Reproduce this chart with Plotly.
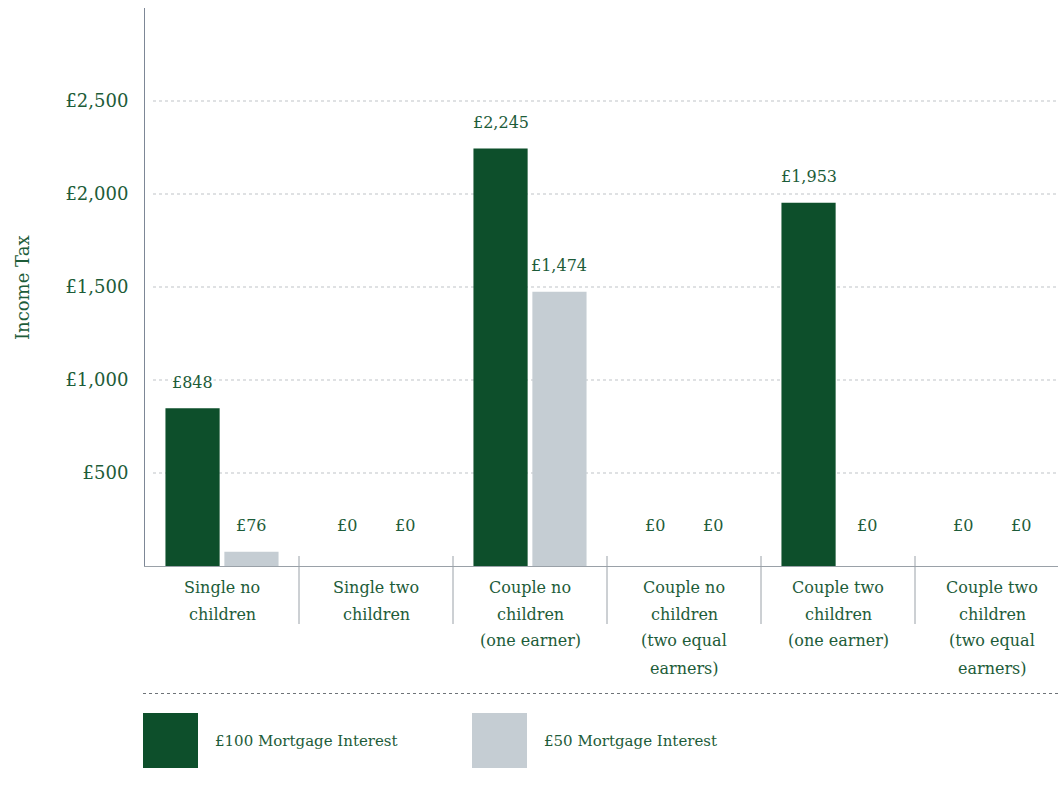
import plotly.graph_objects as go

categories = [
    ["Single no", "children"],
    ["Single two", "children"],
    ["Couple no", "children", "(one earner)"],
    ["Couple no", "children", "(two equal", "earners)"],
    ["Couple two", "children", "(one earner)"],
    ["Couple two", "children", "(two equal", "earners)"],
]
series_names = ["£100 Mortgage Interest", "£50 Mortgage Interest"]
values_100 = [848, 0, 2245, 0, 1953, 0]
values_50 = [76, 0, 1474, 0, 0, 0]
tick_vals = [500, 1000, 1500, 2000, 2500]
tick_text = ["£500", "£1,000", "£1,500", "£2,000", "£2,500"]

GREEN = "#0d4f2b"
GREY = "#c5cdd3"
TEXT = "#1d5c39"
FONT = "DejaVu Serif"

W, H = 1058, 789
L, R, T, B = 145, 0, 8, 223
PW, PH = W - L - R, H - T - B
GROUP_PX = 154
BARGAP = 0.235


def px(x):
    return (x - L) / PW


def py(y):
    return (H - B - y) / PH


xs = list(range(len(categories)))
fig = go.Figure()
for name, vals, col in [(series_names[0], values_100, GREEN), (series_names[1], values_50, GREY)]:
    fig.add_trace(go.Bar(x=xs, y=vals, name=name, marker=dict(color=col, line=dict(width=0)),
                         hoverinfo="skip", showlegend=False))

ann = []
slot_w = (1 - BARGAP) / 2
for si, vals in enumerate([values_100, values_50]):
    for i, v in enumerate(vals):
        ann.append(dict(x=i + (si - 0.5) * slot_w, y=max(v, 76), xref="x", yref="y",
                        text=f"£{v:,}", showarrow=False, yanchor="middle", yshift=26,
                        bgcolor="white", borderpad=0,
                        font=dict(family=FONT, size=16, color=TEXT)))

for i, lines in enumerate(categories):
    for j, line in enumerate(lines):
        ann.append(dict(x=i, y=py(587 + 27 * j), xref="x", yref="paper", text=line,
                        showarrow=False, yanchor="middle",
                        font=dict(family=FONT, size=16, color=TEXT)))

ann.append(dict(x=px(22), y=py(288), xref="paper", yref="paper", text="Income Tax",
                showarrow=False, textangle=-90, xanchor="center", yanchor="middle",
                font=dict(family=FONT, size=18, color=TEXT)))

ann.append(dict(x=px(213), y=py(741), xref="paper", yref="paper", text=series_names[0],
                showarrow=False, xanchor="left", yanchor="middle",
                font=dict(family=FONT, size=15, color=TEXT)))
ann.append(dict(x=px(542), y=py(741), xref="paper", yref="paper", text=series_names[1],
                showarrow=False, xanchor="left", yanchor="middle",
                font=dict(family=FONT, size=15, color=TEXT)))

shapes = []
for tv in tick_vals:
    shapes.append(dict(type="line", xref="paper", yref="y", x0=px(153), x1=px(1056), y0=tv, y1=tv,
                       line=dict(color="#bfc3c7", width=1, dash="dot"), layer="below"))
for i in range(len(categories) - 1):
    shapes.append(dict(type="line", xref="x", yref="paper", x0=i + 0.5, x1=i + 0.5,
                       y0=py(556), y1=py(624), line=dict(color="#9aa1a8", width=1)))
shapes.append(dict(type="line", xref="paper", yref="paper", x0=px(143), x1=px(1058),
                   y0=py(693.5), y1=py(693.5), line=dict(color="#6e7378", width=1, dash="dot")))
shapes.append(dict(type="rect", xref="paper", yref="paper", x0=px(143), x1=px(198),
                   y0=py(768), y1=py(713), fillcolor=GREEN, line=dict(width=0)))
shapes.append(dict(type="rect", xref="paper", yref="paper", x0=px(472), x1=px(527),
                   y0=py(768), y1=py(713), fillcolor=GREY, line=dict(width=0)))

x_hi = -0.5 + PW / GROUP_PX

fig.update_layout(
    width=W, height=H,
    margin=dict(l=L, r=R, t=T, b=B, pad=0),
    paper_bgcolor="white", plot_bgcolor="white",
    barmode="group", bargap=BARGAP, bargroupgap=0.08,
    annotations=ann, shapes=shapes, showlegend=False,
    xaxis=dict(range=[-0.5, x_hi], showticklabels=False, showgrid=False,
               zeroline=False, showline=True, linecolor="#9aa1a8", linewidth=1, ticks=""),
    yaxis=dict(range=[0, 3000], tickvals=tick_vals, ticktext=tick_text, showgrid=False,
               zeroline=False, showline=True, linecolor="#7d8796", linewidth=1,
               ticks="outside", ticklen=12, tickcolor="rgba(0,0,0,0)",
               tickfont=dict(family=FONT, size=18, color=TEXT)),
)
fig.write_html("out.html")
